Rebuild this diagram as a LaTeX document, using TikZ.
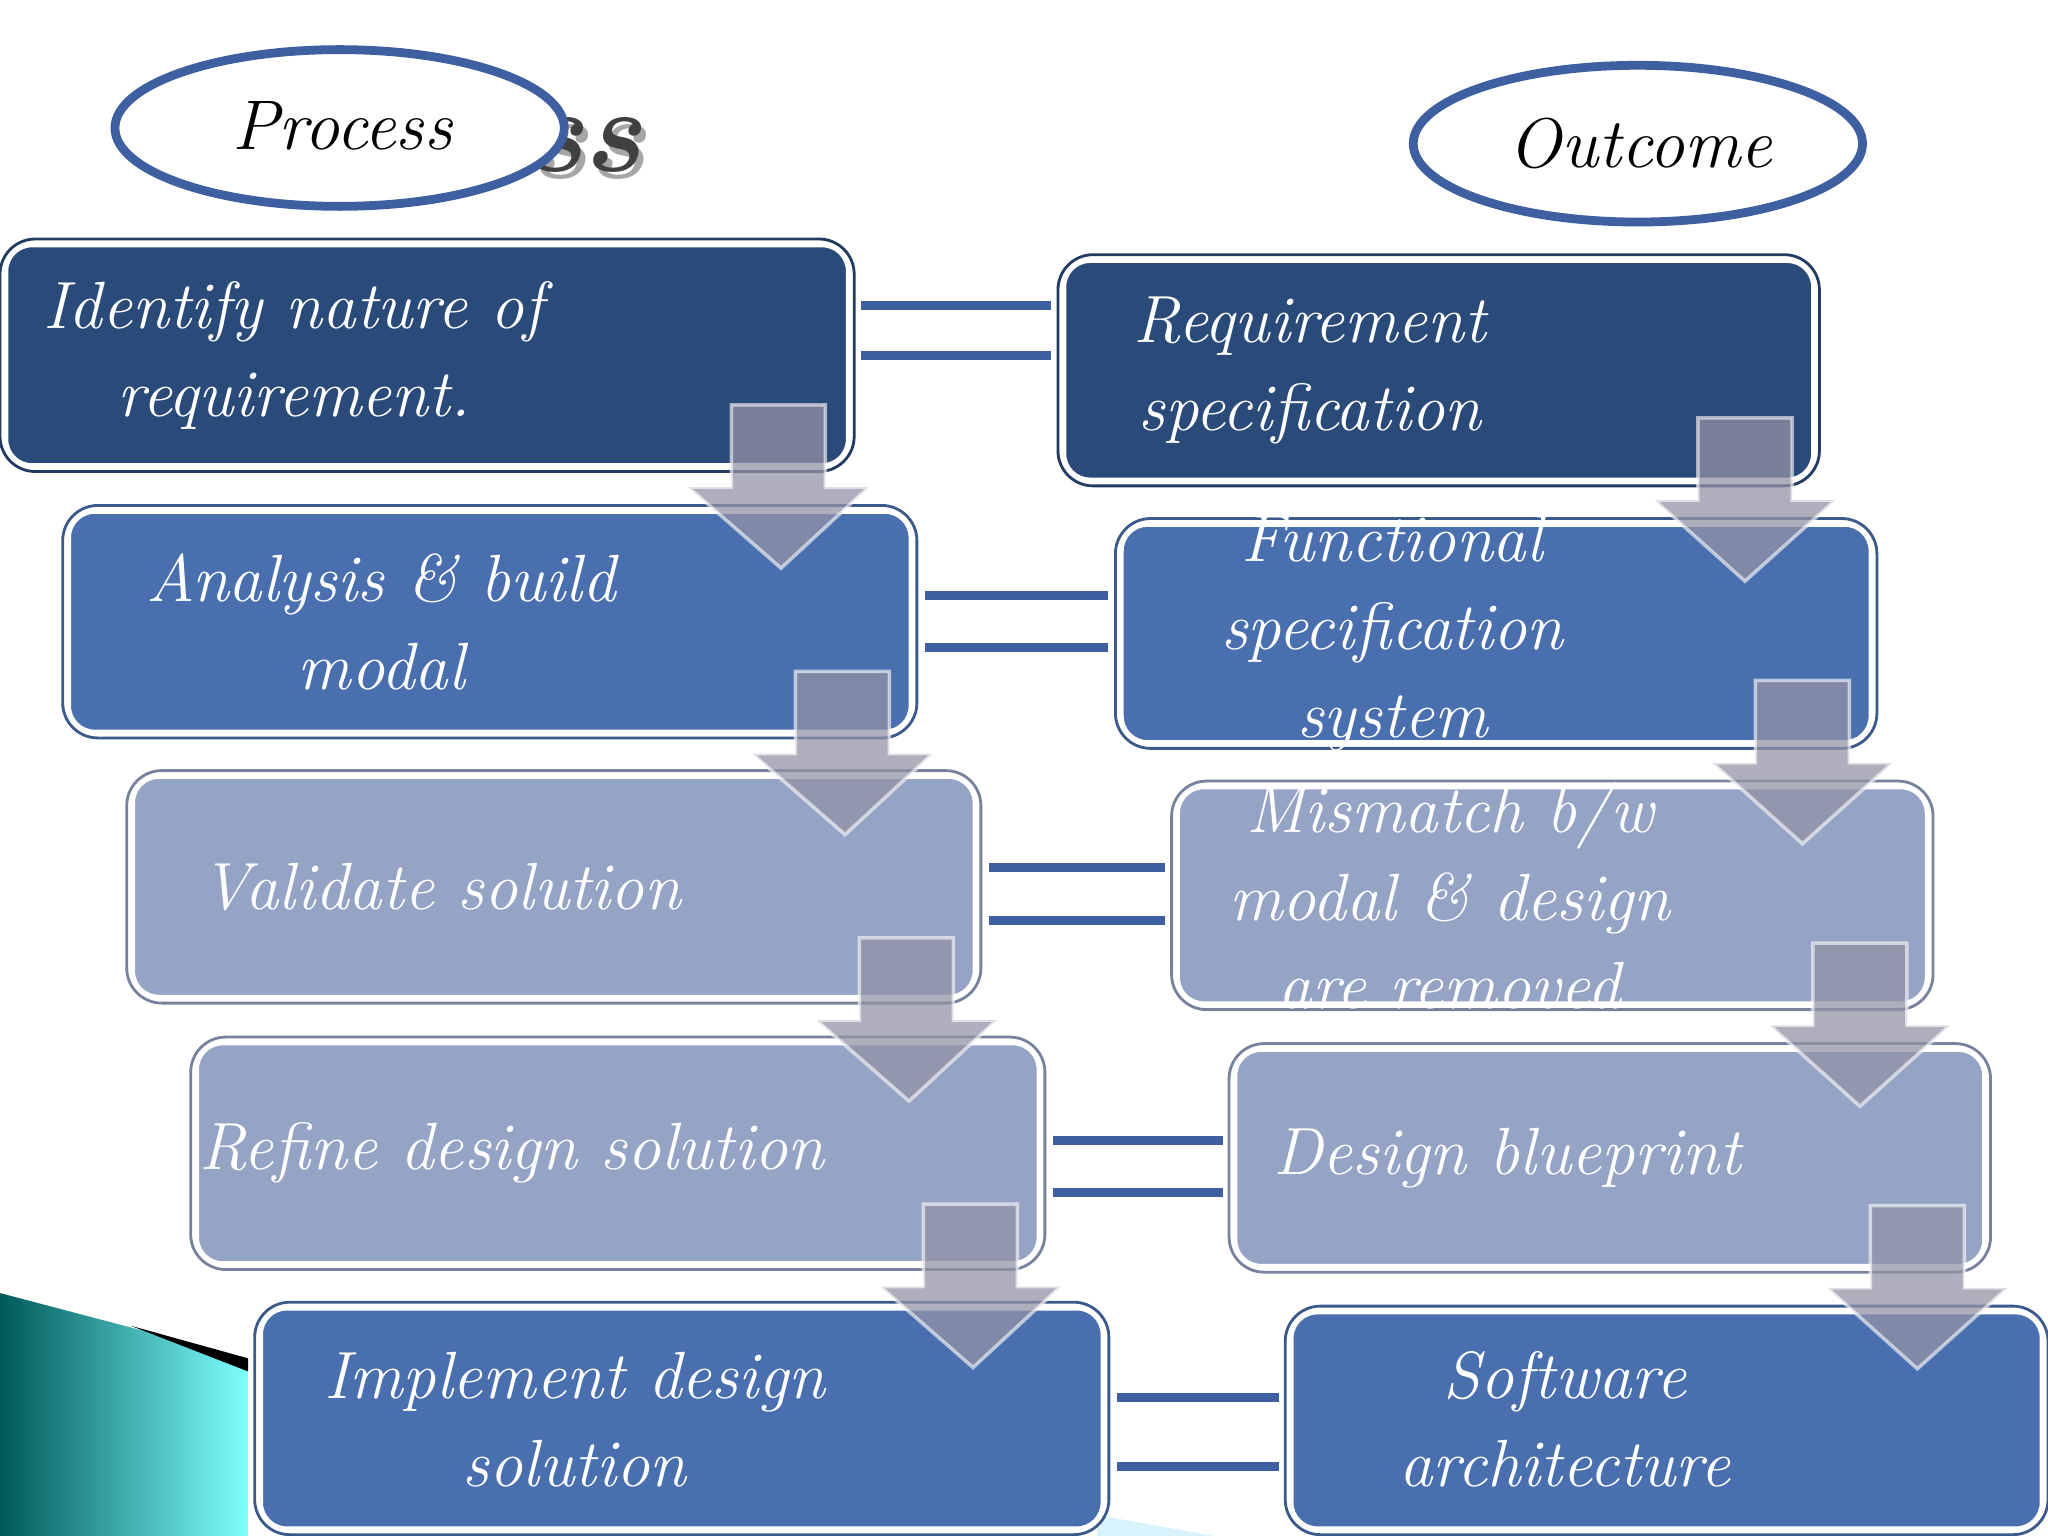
\documentclass[tikz,border=0pt]{standalone}
\usetikzlibrary{shapes.geometric}
\begin{document}
\begin{tikzpicture}[x=0.013061cm,y=-0.013061cm,
  txt/.style={text=white,font=\itshape\fontsize{19}{25}\selectfont,align=center},
  eq/.style={draw=el,line width=2.5pt},
  arr/.style={fill=white!75!blue!30!gray,fill opacity=0.75,draw=white,draw opacity=0.6,line width=1pt}]
\definecolor{dk}{HTML}{2A4A7A}\definecolor{md}{HTML}{4A6FAE}\definecolor{lt}{HTML}{95A3C4}\definecolor{el}{HTML}{3E5FA0}
\useasboundingbox (0,0) rectangle (1568,1176);
\fill[white] (0,0) rectangle (1568,1176);
% bottom-left decoration
\shade[left color=teal!70!black,right color=cyan!50!white] (0,990) -- (190,1040) -- (190,1176) -- (0,1176) -- cycle;
\fill[black] (100,1015) -- (190,1040) -- (190,1050) -- cycle;
\fill[cyan!15] (840,1160) -- (930,1176) -- (840,1176) -- cycle;
% title behind
\node[font=\bfseries\itshape\fontsize{34}{40}\selectfont,text=black!35] (titles) at (324,106) {Process};
\node[font=\bfseries\itshape\fontsize{34}{40}\selectfont,text=black!75] (title) at (320,100) {Process};
\coordinate (p) at (260,98);
\filldraw[draw=el,line width=2.5pt,fill=white] (p) ellipse (172 and 60);
\draw[white,line width=1pt] (p) ellipse (166 and 54);
\node[font=\itshape\fontsize{20}{24}\selectfont] (pt) at (262,96) {Process};
\coordinate (o) at (1254,110);
\filldraw[draw=el,line width=2.5pt,fill=white] (o) ellipse (172 and 60);
\draw[white,line width=1pt] (o) ellipse (166 and 54);
\node[font=\itshape\fontsize{20}{24}\selectfont] (ot) at (1256,110) {Outcome};
% boxes
\foreach \n/\xa/\ya/\xb/\yb/\c in {L1/3/186/651/358/dk,L2/51/390/699/562/md,L3/100/593/748/765/lt,L4/149/797/797/969/lt,L5/198/1000/846/1172/md,R1/813/198/1390/369/dk,R2/857/400/1434/570/md,R3/900/601/1477/770/lt,R4/944/802/1521/971/lt,R5/987/1003/1565/1172/md}{
  \fill[\c,rounded corners=8pt] (\xa,\ya) rectangle (\xb,\yb);
  \draw[white,line width=2.5pt,rounded corners=8pt] (\xa,\ya) rectangle (\xb,\yb);
  \draw[\c!80!black,line width=0.8pt,rounded corners=10pt] (\xa-3,\ya-3) rectangle (\xb+3,\yb+3);
  \coordinate (\n) at (\xa,\ya);}
\node[txt] (t1) at (225,272) {Identify nature of\\requirement.};
\node[txt] (t2) at (292,476) {Analysis \& build\\modal};
\node[txt] (t3) at (338,679) {Validate solution};
\node[txt] (t4) at (392,883) {Refine design solution};
\node[txt] (t5) at (440,1087) {Implement design\\solution};
\node[txt] (u1) at (1003,284) {Requirement\\specification};
\node[txt] (u2) at (1066,485) {Functional\\specification\\system};
\node[txt] (u3) at (1110,686) {Mismatch b/w\\modal \& design\\are removed};
\node[txt] (u4) at (1154,887) {Design blueprint};
\node[txt] (u5) at (1198,1087) {Software\\architecture};
% equal signs
\foreach \xa/\xb/\ya/\yb in {659/805/234/272,708/848/456/496,757/892/664/705,806/936/873/913,855/979/1070/1123}{
  \draw[eq] (\xa,\ya) -- (\xb,\ya); \draw[eq] (\xa,\yb) -- (\xb,\yb);}
% down arrows
\foreach \i in {0,...,3}{
  \begin{scope}[shift={({49*\i},{204*\i})}]
  \draw[arr] (560,310) -- (632,310) -- (632,373) -- (665,373) -- (598,435) -- (527,373) -- (560,373) -- cycle;
  \end{scope}
  \begin{scope}[shift={({44*\i},{201*\i})}]
  \draw[arr] (1300,320) -- (1372,320) -- (1372,383) -- (1405,383) -- (1336,445) -- (1267,383) -- (1300,383) -- cycle;
  \end{scope}}
\end{tikzpicture}
\end{document}
